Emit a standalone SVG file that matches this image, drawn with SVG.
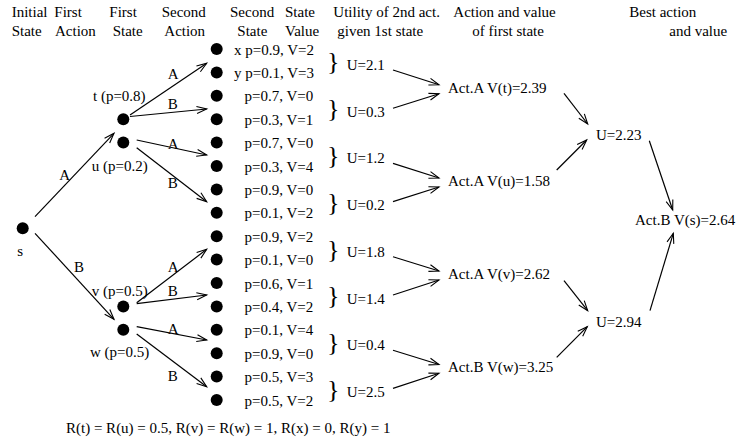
<svg xmlns="http://www.w3.org/2000/svg" width="737" height="444" viewBox="0 0 737 444">
<style>
text{font-family:"Liberation Serif","Times New Roman",serif;font-size:15px;fill:#000}
.br{font-size:26px}
.c{stroke:#000;stroke-width:1.2;fill:none;marker-end:url(#ah)}
.d{fill:#000}
</style>
<defs>
<marker id="ah" markerUnits="userSpaceOnUse" markerWidth="12" markerHeight="9" refX="10" refY="3.5" orient="auto" overflow="visible">
<path d="M0,0 L10,3.5 L0,7" fill="none" stroke="#000" stroke-width="1.1"/>
</marker>
</defs>
<rect width="737" height="444" fill="#fff"/>
<g id="headers">
<text x="11.7" y="17">Initial</text>
<text x="54.3" y="17">First</text>
<text x="109.3" y="17">First</text>
<text x="161.7" y="17">Second</text>
<text x="230" y="17">Second</text>
<text x="285" y="17">State</text>
<text x="333.3" y="17">Utility of 2nd act.</text>
<text x="453.3" y="17">Action and value</text>
<text x="629.3" y="17">Best action</text>
<text x="11.7" y="36">State</text>
<text x="55" y="36">Action</text>
<text x="112.7" y="36">State</text>
<text x="164.3" y="36">Action</text>
<text x="237.3" y="36">State</text>
<text x="285" y="36">Value</text>
<text x="337.3" y="36">given 1st state</text>
<text x="472.3" y="36">of first state</text>
<text x="669.3" y="36">and value</text>
</g>
<g id="s"><circle class="d" cx="22.7" cy="228.3" r="6"/><text x="17.3" y="255.7">s</text></g>
<g id="t"><circle class="d" cx="123.3" cy="119.2" r="6"/><text x="93" y="100.7">t (p=0.8)</text></g>
<g id="u"><circle class="d" cx="123.3" cy="142.6" r="6"/><text x="91.7" y="170.7">u (p=0.2)</text></g>
<g id="v"><circle class="d" cx="123.3" cy="306.4" r="6"/><text x="91.7" y="296">v (p=0.5)</text></g>
<g id="w"><circle class="d" cx="123.3" cy="329.8" r="6"/><text x="90" y="357.3">w (p=0.5)</text></g>
<g id="second-states">
<g id="ss0"><circle class="d" cx="216.7" cy="49" r="6"/><text x="234" y="54.5">x p=0.9, V=2</text></g>
<g id="ss1"><circle class="d" cx="216.7" cy="72.4" r="6"/><text x="234" y="77.9">y p=0.1, V=3</text></g>
<g id="ss2"><circle class="d" cx="216.7" cy="95.8" r="6"/><text x="244.5" y="101.3">p=0.7, V=0</text></g>
<g id="ss3"><circle class="d" cx="216.7" cy="119.2" r="6"/><text x="244.5" y="124.7">p=0.3, V=1</text></g>
<g id="ss4"><circle class="d" cx="216.7" cy="142.6" r="6"/><text x="244.5" y="148.1">p=0.7, V=0</text></g>
<g id="ss5"><circle class="d" cx="216.7" cy="166" r="6"/><text x="244.5" y="171.5">p=0.3, V=4</text></g>
<g id="ss6"><circle class="d" cx="216.7" cy="189.4" r="6"/><text x="244.5" y="194.9">p=0.9, V=0</text></g>
<g id="ss7"><circle class="d" cx="216.7" cy="212.8" r="6"/><text x="244.5" y="218.3">p=0.1, V=2</text></g>
<g id="ss8"><circle class="d" cx="216.7" cy="236.2" r="6"/><text x="244.5" y="241.7">p=0.9, V=2</text></g>
<g id="ss9"><circle class="d" cx="216.7" cy="259.6" r="6"/><text x="244.5" y="265.1">p=0.1, V=0</text></g>
<g id="ss10"><circle class="d" cx="216.7" cy="283" r="6"/><text x="244.5" y="288.5">p=0.6, V=1</text></g>
<g id="ss11"><circle class="d" cx="216.7" cy="306.4" r="6"/><text x="244.5" y="311.9">p=0.4, V=2</text></g>
<g id="ss12"><circle class="d" cx="216.7" cy="329.8" r="6"/><text x="244.5" y="335.3">p=0.1, V=4</text></g>
<g id="ss13"><circle class="d" cx="216.7" cy="353.2" r="6"/><text x="244.5" y="358.7">p=0.9, V=0</text></g>
<g id="ss14"><circle class="d" cx="216.7" cy="376.6" r="6"/><text x="244.5" y="382.1">p=0.5, V=3</text></g>
<g id="ss15"><circle class="d" cx="216.7" cy="400" r="6"/><text x="244.5" y="405.5">p=0.5, V=2</text></g>
</g>
<g id="utilities">
<g id="u0"><text class="br" x="327" y="70.4">}</text><text x="346.7" y="70">U=2.1</text></g>
<g id="u1"><text class="br" x="327" y="117.2">}</text><text x="346.7" y="116.7">U=0.3</text></g>
<g id="u2"><text class="br" x="327" y="164">}</text><text x="346.7" y="163.4">U=1.2</text></g>
<g id="u3"><text class="br" x="327" y="210.8">}</text><text x="346.7" y="210.1">U=0.2</text></g>
<g id="u4"><text class="br" x="327" y="257.6">}</text><text x="346.7" y="256.8">U=1.8</text></g>
<g id="u5"><text class="br" x="327" y="304.4">}</text><text x="346.7" y="303.5">U=1.4</text></g>
<g id="u6"><text class="br" x="327" y="351.2">}</text><text x="346.7" y="350.2">U=0.4</text></g>
<g id="u7"><text class="br" x="327" y="398">}</text><text x="346.7" y="396.9">U=2.5</text></g>
</g>
<g id="act-t"><text x="448" y="92.7">Act.A V(t)=2.39</text></g>
<g id="act-u"><text x="448" y="186">Act.A V(u)=1.58</text></g>
<g id="act-v"><text x="448" y="279">Act.A V(v)=2.62</text></g>
<g id="act-w"><text x="448" y="372">Act.B V(w)=3.25</text></g>
<g id="u-tu"><text x="596" y="140">U=2.23</text></g>
<g id="u-vw"><text x="596" y="327">U=2.94</text></g>
<g id="act-s"><text x="635" y="225">Act.B V(s)=2.64</text></g>
<g id="connectors">
<path class="c" d="M35,216.7 L114,133.3"/>
<path class="c" d="M35,233.3 L114,319.3"/>
<path class="c" d="M130,115 L206.7,63.3"/>
<path class="c" d="M130,116.5 L206.7,109"/>
<path class="c" d="M136.7,140 L206.7,155"/>
<path class="c" d="M136.7,147.7 L206.7,201.7"/>
<path class="c" d="M136.7,302.7 L206.7,249.3"/>
<path class="c" d="M136.7,303.6 L206.7,295"/>
<path class="c" d="M136.7,326.7 L206.7,340"/>
<path class="c" d="M136.7,334 L206.7,386.7"/>
<path class="c" d="M393,70 L439,84.7"/>
<path class="c" d="M393,108.2 L439,93.7"/>
<path class="c" d="M393,163.4 L439,178"/>
<path class="c" d="M393,201.6 L439,187"/>
<path class="c" d="M393,256.8 L439,271"/>
<path class="c" d="M393,295 L439,280"/>
<path class="c" d="M393,350.2 L439,364.5"/>
<path class="c" d="M393,388.4 L439,373.3"/>
<path class="c" d="M564,93.3 L587.7,124"/>
<path class="c" d="M556.7,170 L586.7,140"/>
<path class="c" d="M564,280.7 L587.7,310.7"/>
<path class="c" d="M556.7,357.3 L587.3,326.7"/>
<path class="c" d="M649.3,140.7 L672.7,210"/>
<path class="c" d="M650,310.7 L673.3,233.3"/>
<text x="59.3" y="180">A</text>
<text x="74" y="272.3">B</text>
<text x="167.7" y="79">A</text>
<text x="167.7" y="108.5">B</text>
<text x="167.7" y="149">A</text>
<text x="167.7" y="187.7">B</text>
<text x="167.7" y="272.3">A</text>
<text x="167.7" y="296">B</text>
<text x="167.7" y="334.3">A</text>
<text x="167.7" y="381">B</text>
</g>
<g id="rewards"><text x="66" y="433.3">R(t) = R(u) = 0.5, R(v) = R(w) = 1, R(x) = 0, R(y) = 1</text></g>
</svg>
